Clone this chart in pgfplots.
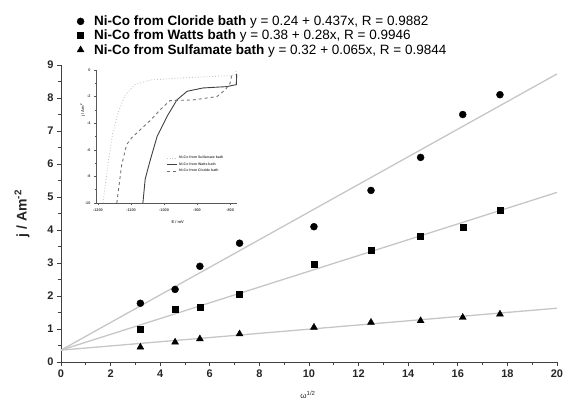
\documentclass[border=0pt]{standalone}
\usepackage{pgfplots}
\pgfplotsset{compat=1.18}
\usepackage{fontspec}
\setmainfont{Liberation Sans}
\begin{document}
\begin{tikzpicture}[x=1pt,y=1pt]
\begin{axis}[
  at={(0pt,0pt)}, anchor=south west,
  scale only axis, width=496pt, height=297pt,
  xmin=0, xmax=20, ymin=0, ymax=9, enlargelimits=false,
  axis lines=left, axis line style={-, black!75, line width=0.9pt},
  tick align=outside, tick style={black!75, line width=0.8pt},
  major tick length=4pt, minor tick length=2.5pt,
  xtick={0,2,...,20}, ytick={0,1,...,9},
  minor x tick num=1, minor y tick num=1,
  /pgf/number format/assume math mode=true,
  ticklabel style={font=\bfseries\fontsize{11}{13}\selectfont, text=black!85},
  xlabel={ω\textsuperscript{1/2}},
  xlabel style={at={(axis description cs:0.498,-0.111)}, anchor=center, font=\fontsize{8}{9}\selectfont, text=black!85},
  ylabel={j / Am\textsuperscript{-2}},
  ylabel style={at={(axis description cs:-0.0786,0.5)}, anchor=center, font=\bfseries\fontsize{14}{16}\selectfont, text=black!85},
  legend style={at={(axis description cs:0.026,1.18)}, anchor=north west, draw=none, fill=none,
    font=\fontsize{13.5}{16}\selectfont, row sep=-1pt,
    /tikz/every odd column/.append style={column sep=8pt}},
  legend cell align=left,
  clip=false,
]
\addplot[gray!45, line width=1.3pt, forget plot] coordinates {(0,0.36) (20,8.73)};
\addplot[gray!45, line width=1.3pt, forget plot] coordinates {(0,0.36) (20,5.14)};
\addplot[gray!45, line width=1.3pt, forget plot] coordinates {(0,0.36) (20,1.63)};
\addplot[only marks, mark=*, mark size=3.5pt, black] coordinates {
 (3.2,1.78) (4.6,2.2) (5.6,2.9) (7.2,3.6) (10.2,4.1) (12.5,5.2) (14.5,6.2) (16.2,7.5) (17.7,8.1)};
\addlegendentry{\textbf{Ni-Co from Cloride bath} y = 0.24 + 0.437x, R = 0.9882}
\addplot[only marks, mark=square*, mark size=3pt, black] coordinates {
 (3.2,1.0) (4.6,1.6) (5.6,1.65) (7.2,2.05) (10.2,2.95) (12.5,3.4) (14.5,3.8) (16.2,4.1) (17.7,4.6)};
\addlegendentry{\textbf{Ni-Co from Watts bath} y = 0.38 + 0.28x, R = 0.9946}
\addplot[only marks, mark=triangle*, mark size=4pt, black] coordinates {
 (3.2,0.45) (4.6,0.6) (5.6,0.7) (7.2,0.85) (10.2,1.05) (12.5,1.2) (14.5,1.25) (16.2,1.35) (17.7,1.45)};
\addlegendentry{\textbf{Ni-Co from Sulfamate bath} y = 0.32 + 0.065x, R = 0.9844}
\end{axis}
\begin{axis}[
  at={(35pt,159pt)}, anchor=south west,
  scale only axis, width=141pt, height=133pt,
  xmin=-1206, xmax=-779, ymin=-10, ymax=0, enlargelimits=false,
  axis lines=left, axis line style={-, black!65, line width=0.6pt},
  tick align=outside, tick style={black!65, line width=0.5pt},
  major tick length=2pt, minor tick length=1.2pt,
  xtick={-1200,-1100,...,-800}, ytick={-10,-8,...,0},
  minor x tick num=1, minor y tick num=1,
  /pgf/number format/assume math mode=true,
  /pgf/number format/1000 sep={},
  ticklabel style={font=\bfseries\fontsize{3.8}{4}\selectfont, text=black!75},
  xlabel={E / mV},
  xlabel style={font=\bfseries\fontsize{4}{5}\selectfont, text=black!75, at={(axis description cs:0.58,-0.14)}, anchor=center},
  ylabel={j / Am\textsuperscript{-2}},
  ylabel style={font=\bfseries\fontsize{4}{5}\selectfont, text=black!75, at={(axis description cs:-0.095,0.7)}, anchor=center},
  legend style={at={(axis description cs:0.475,0.383)}, anchor=north west, draw=none, fill=none,
    font=\bfseries\fontsize{3.5}{4}\selectfont, row sep=-1.5pt, text=black!75},
  legend cell align=left,
  legend image code/.code={\draw[#1] (0pt,0pt) -- (10pt,0pt);},
  clip=false,
]
\addplot[gray!45, line width=0.9pt, dotted] coordinates {
 (-1185,-10) (-1170,-7.1) (-1155,-4.7) (-1139,-3.2) (-1118,-1.9) (-1088,-1.1) (-1042,-0.75)
 (-960,-0.62) (-880,-0.52) (-800,-0.42) (-784,-0.35) (-782,0)};
\addlegendentry{Ni-Co from Sulfamate bath}
\addplot[black!75, line width=0.9pt] coordinates {
 (-1064,-10) (-1057,-8.2) (-1042,-6.8) (-1021,-5.0) (-991,-3.5) (-961,-2.25) (-930,-1.6)
 (-882,-1.35) (-810,-1.25) (-781,-1.1) (-780,-0.3)};
\addlegendentry{Ni-Co from Watts bath}
\addplot[black!55, line width=0.9pt, dashed] coordinates {
 (-1143,-10) (-1128,-7.1) (-1113,-5.6) (-1098,-5.1) (-1068,-4.4) (-1042,-3.8) (-1012,-3.0)
 (-982,-2.3) (-912,-2.25) (-840,-2.0) (-815,-1.5) (-800,-1.0) (-795,-0.4)};
\addlegendentry{Ni-Co from Cloride bath}
\end{axis}
\pgfresetboundingbox
\path (-61,-48) rectangle (502,362);
\end{tikzpicture}
\end{document}
